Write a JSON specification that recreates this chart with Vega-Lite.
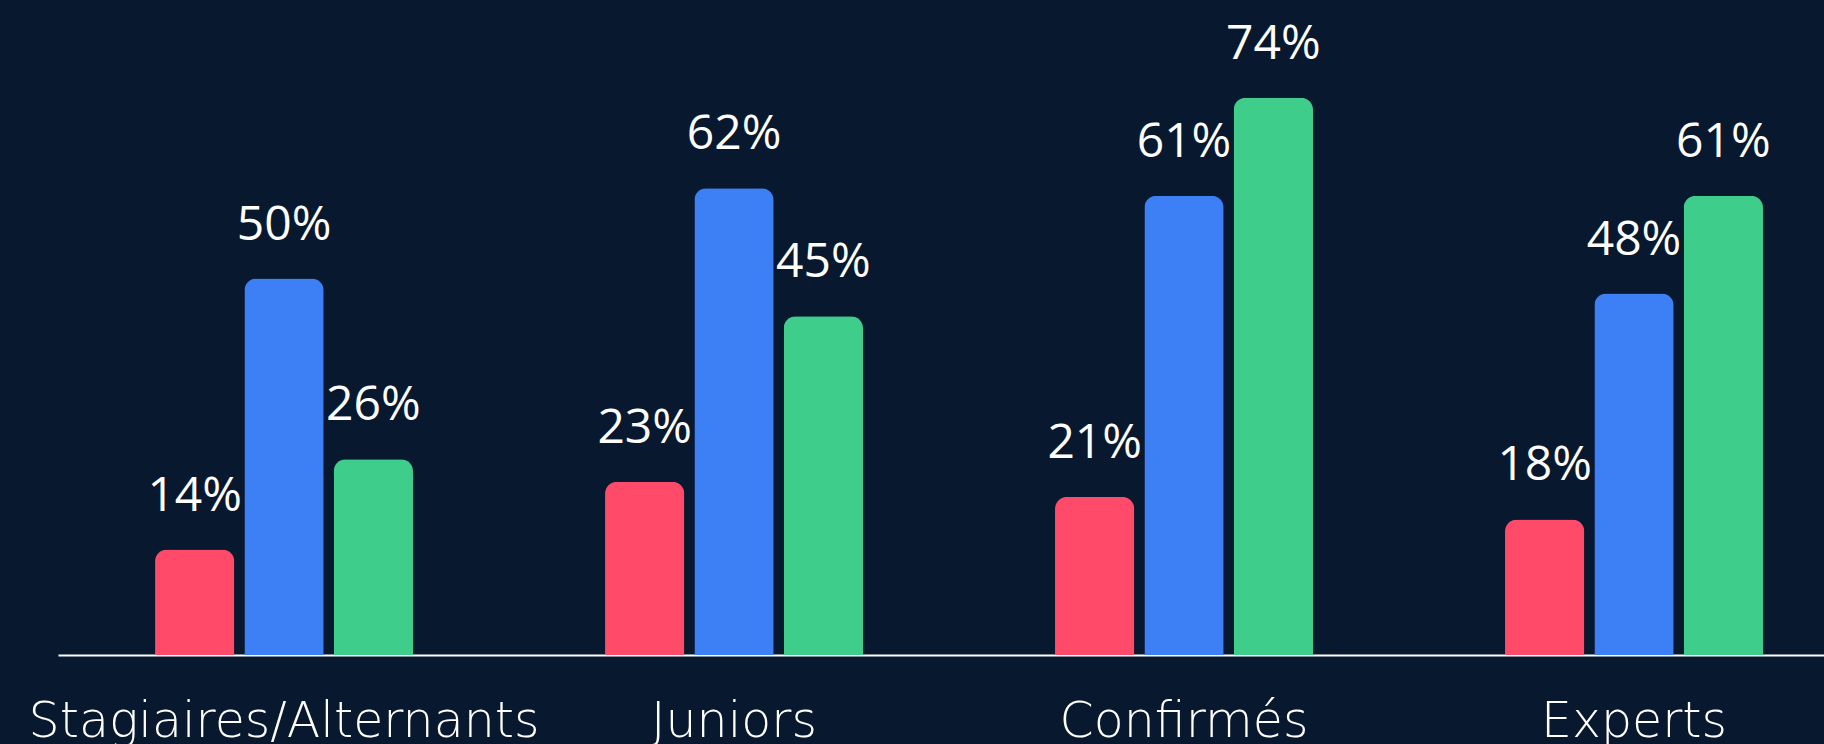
{
  "$schema": "https://vega.github.io/schema/vega-lite/v6.json",
  "width": 1766,
  "height": 655,
  "autosize": {"type": "none"},
  "padding": {"left": 58, "top": 0, "right": 0, "bottom": 89},
  "background": "#07182f",
  "config": {"view": {"stroke": null}, "font": "Open Sans"},
  "data": {
    "values": [
      {"cat": "Stagiaires/Alternants", "serie": "A", "value": 0.14},
      {"cat": "Stagiaires/Alternants", "serie": "B", "value": 0.50},
      {"cat": "Stagiaires/Alternants", "serie": "C", "value": 0.26},
      {"cat": "Juniors", "serie": "A", "value": 0.23},
      {"cat": "Juniors", "serie": "B", "value": 0.62},
      {"cat": "Juniors", "serie": "C", "value": 0.45},
      {"cat": "Confirmés", "serie": "A", "value": 0.21},
      {"cat": "Confirmés", "serie": "B", "value": 0.61},
      {"cat": "Confirmés", "serie": "C", "value": 0.74},
      {"cat": "Experts", "serie": "A", "value": 0.18},
      {"cat": "Experts", "serie": "B", "value": 0.48},
      {"cat": "Experts", "serie": "C", "value": 0.61}
    ]
  },
  "encoding": {
    "x": {
      "field": "cat",
      "type": "nominal",
      "sort": ["Stagiaires/Alternants", "Juniors", "Confirmés", "Experts"],
      "scale": {"paddingInner": 0.4267, "paddingOuter": 0.1756, "align": 0.614},
      "axis": {
        "title": null,
        "ticks": false,
        "tickSize": 0,
        "domainColor": "#ffffff",
        "domainWidth": 2,
        "labelColor": "#ffffff",
        "labelFont": "DejaVu Sans",
        "labelFontSize": 49,
        "labelFontWeight": 300,
        "labelBaseline": "alphabetic",
        "labelPadding": 81,
        "labelAngle": 0,
        "labelOverlap": false,
        "labelLimit": 0,
        "grid": false
      }
    },
    "xOffset": {
      "field": "serie",
      "type": "nominal",
      "scale": {"paddingInner": 0.1124, "paddingOuter": 0}
    },
    "y": {
      "field": "value",
      "type": "quantitative",
      "scale": {"domain": [0, 0.87], "nice": false, "zero": true},
      "axis": null
    }
  },
  "layer": [
    {
      "mark": {"type": "bar", "cornerRadiusTopLeft": 12, "cornerRadiusTopRight": 12},
      "encoding": {
        "color": {
          "field": "serie",
          "type": "nominal",
          "scale": {"domain": ["A", "B", "C"], "range": ["#FF4B69", "#3D80F5", "#3ECD8B"]},
          "legend": null
        }
      }
    },
    {
      "mark": {
        "type": "text",
        "baseline": "alphabetic",
        "align": "center",
        "dy": -39,
        "fontSize": 48,
        "fontWeight": 500,
        "font": "Open Sans",
        "color": "#ffffff"
      },
      "encoding": {
        "text": {"field": "value", "type": "quantitative", "format": ".0%"}
      }
    }
  ]
}
